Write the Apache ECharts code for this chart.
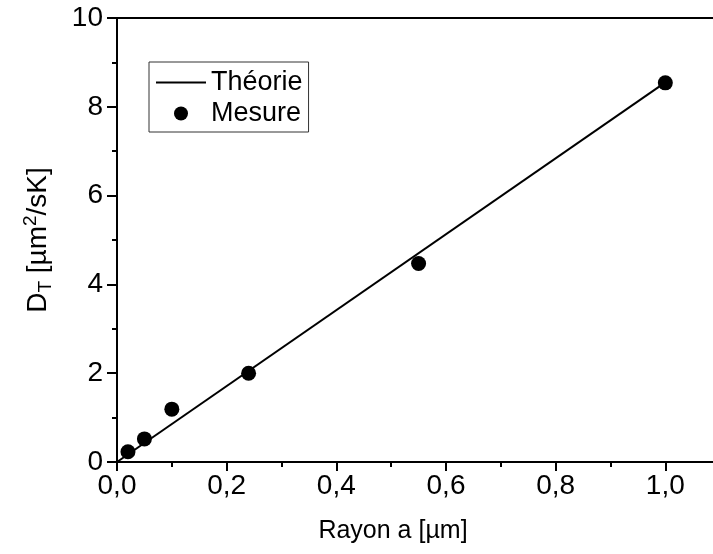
<!DOCTYPE html>
<html>
<head>
<meta charset="utf-8">
<script src="https://cdn.jsdelivr.net/npm/echarts@6/dist/echarts.min.js"></script>
<style>
  html, body { margin: 0; padding: 0; background: #fff; }
  #chart { width: 713px; height: 554px; }
</style>
</head>
<body>
<div id="chart"></div>
<script>
// theory line (straight line through origin)
const theoryX = [0, 1.0]
const theoryY = [0, 8.55]
// measured points
const rayon = [0.02, 0.05, 0.10, 0.24, 0.55, 1.0]
const mesure = [0.23, 0.52, 1.19, 2.0, 4.47, 8.54]
const yTicks = [0, 2, 4, 6, 8, 10]

const font = 'Liberation Sans, Arial, sans-serif'
const pair = (xs, ys) => xs.map((x, i) => [x, ys[i]])

const chart = echarts.init(document.getElementById('chart'))
chart.setOption({
  animation: false,
  backgroundColor: '#fff',
  grid: {
    left: 117,
    top: 18,
    right: -62,
    bottom: 92,
    outerBoundsMode: 'none',
    containLabel: false,
    show: true,
    borderColor: '#000',
    borderWidth: 2,
  },
  legend: {
    orient: 'vertical',
    left: 149,
    top: 62,
    itemWidth: 50,
    itemHeight: 14,
    itemGap: 4,
    padding: [7, 6, 5, 6],
    borderColor: '#333',
    borderWidth: 1,
    textStyle: { fontFamily: font, fontSize: 27, color: '#000' },
    data: [
      { name: 'Théorie', itemStyle: { opacity: 0, borderWidth: 0 } },
      { name: 'Mesure' },
    ],
  },
  xAxis: {
    type: 'value',
    min: 0,
    max: 1.2,
    interval: 0.2,
    name: 'Rayon a [µm]',
    nameLocation: 'middle',
    nameGap: 57,
    nameTextStyle: { fontFamily: font, fontSize: 25, color: '#000', padding: [0, 106, 0, 0] },
    splitLine: { show: false },
    axisLine: { lineStyle: { color: '#000', width: 2 } },
    axisTick: { length: 9, lineStyle: { color: '#000', width: 2 } },
    minorTick: { show: true, splitNumber: 2, length: 5, lineStyle: { color: '#000', width: 2 } },
    axisLabel: {
      margin: 10,
      fontFamily: font,
      fontSize: 28,
      color: '#000',
      formatter: v => v.toFixed(1).replace('.', ','),
    },
  },
  yAxis: {
    type: 'value',
    min: yTicks[0],
    max: yTicks[yTicks.length - 1],
    interval: 2,
    name: '{m|D}{sub|T}{m| [µm}{sup|2}{m|/sK]}',
    nameLocation: 'middle',
    nameGap: 62,
    nameRotate: 90,
    nameTextStyle: {
      fontFamily: font,
      color: '#000',
      rich: {
        m: { fontFamily: font, fontSize: 28, lineHeight: 34, color: '#000' },
        sub: { fontFamily: font, fontSize: 19, lineHeight: 18, verticalAlign: 'bottom', color: '#000' },
        sup: { fontFamily: font, fontSize: 19, lineHeight: 18, verticalAlign: 'top', color: '#000' },
      },
    },
    splitLine: { show: false },
    axisLine: { lineStyle: { color: '#000', width: 2 } },
    axisTick: { length: 10, lineStyle: { color: '#000', width: 2 } },
    minorTick: { show: true, splitNumber: 2, length: 5, lineStyle: { color: '#000', width: 2 } },
    axisLabel: {
      margin: 14,
      fontFamily: font,
      fontSize: 28,
      color: '#000',
    },
  },
  series: [
    {
      name: 'Théorie',
      type: 'line',
      symbol: 'none',
      data: pair(theoryX, theoryY),
      lineStyle: { color: '#000', width: 2 },
      itemStyle: { color: '#000' },
    },
    {
      name: 'Mesure',
      type: 'scatter',
      symbol: 'circle',
      symbolSize: 15,
      data: pair(rayon, mesure),
      itemStyle: { color: '#000', opacity: 1 },
    },
  ],
})
</script>
</body>
</html>
